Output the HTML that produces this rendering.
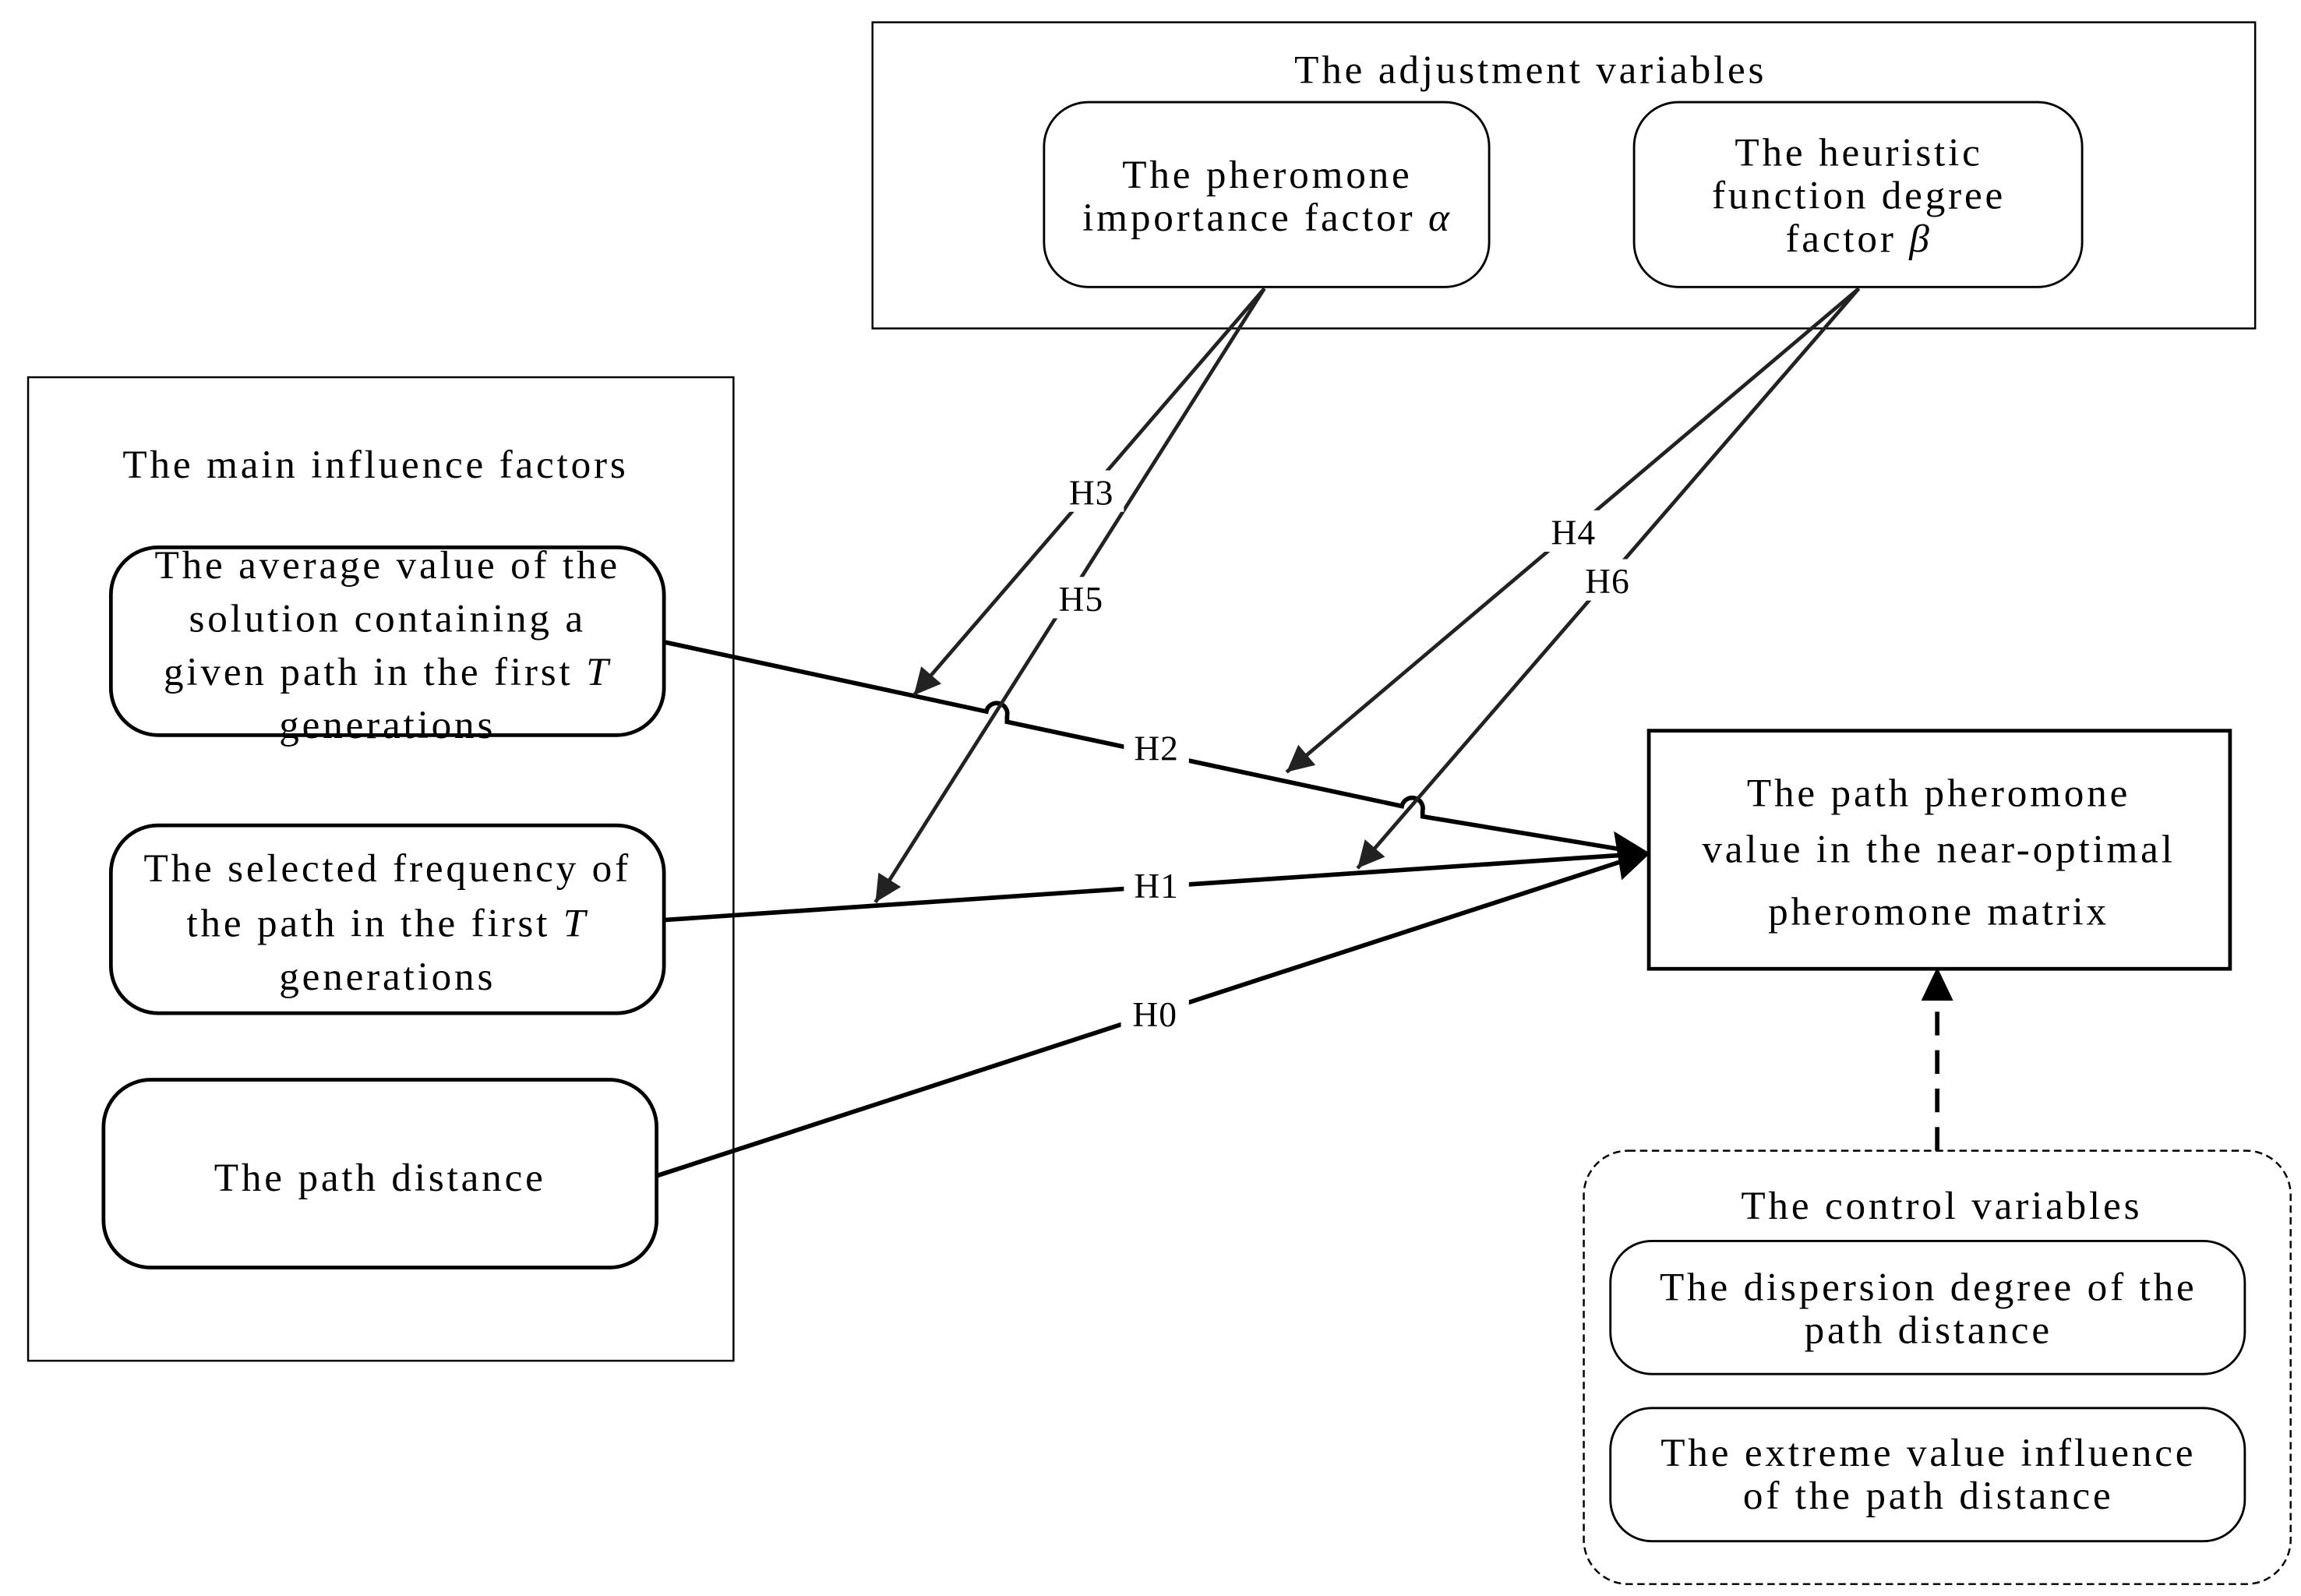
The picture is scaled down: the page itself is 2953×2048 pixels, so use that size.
<!DOCTYPE html>
<html><head><meta charset="utf-8"><style>html,body{margin:0;padding:0;background:#fff}svg{display:block}</style></head>
<body>
<svg width="2953" height="2048" viewBox="0 0 1556 1079" xmlns="http://www.w3.org/2000/svg" font-family="'Liberation Serif', serif" font-size="27" text-anchor="middle" letter-spacing="2">
<defs>
<marker id="a" viewBox="0 0 10 10" refX="10" refY="5" markerWidth="24" markerHeight="18" markerUnits="userSpaceOnUse" orient="auto"><path d="M0,0L10,5L0,10z" fill="#222"/></marker>
</defs>
<g fill="none" stroke="#000">
<rect x="590" y="15" width="935" height="207" stroke-width="1.3"/>
<rect x="19" y="255" width="477" height="665" stroke-width="1.3"/>
<rect x="706" y="69" width="301" height="125" rx="30" stroke-width="1.5"/>
<rect x="1105" y="69" width="303" height="125" rx="30" stroke-width="1.5"/>
<rect x="75" y="370" width="374" height="127" rx="32" stroke-width="2.5"/>
<rect x="75" y="558" width="374" height="127" rx="32" stroke-width="2.5"/>
<rect x="70" y="730" width="374" height="127" rx="32" stroke-width="2.5"/>
<rect x="1115" y="494" width="393" height="161" stroke-width="2.5"/>
<rect x="1071" y="778" width="478" height="293" rx="30" stroke-width="1.3" stroke-dasharray="5,3"/>
<rect x="1089" y="839" width="429" height="90" rx="28" stroke-width="1.5"/>
<rect x="1089" y="952" width="429" height="90" rx="28" stroke-width="1.5"/>
<line x1="1310" y1="778" x2="1310" y2="657" stroke-width="3" stroke-dasharray="16,10"/>
<path d="M1300,676 L1310,655 L1320,676z" fill="#000"/>
<path d="M449,434 L667,481 A7,7 0 0 1 681,484 L681,488 L948,545 A7,7 0 0 1 962,548 L962,552 L1113,577" stroke-width="3"/>
<line x1="449" y1="622" x2="1113" y2="577" stroke-width="3"/>
<line x1="444" y1="795" x2="1113" y2="577" stroke-width="3"/>
<path d="M1092,563 L1115,577 L1097,594z" fill="#000"/>
<g stroke="#222" stroke-width="2.5">
<line x1="855" y1="195" x2="618" y2="470" marker-end="url(#a)"/>
<line x1="855" y1="195" x2="592" y2="610" marker-end="url(#a)"/>
<line x1="1257" y1="195" x2="870" y2="522" marker-end="url(#a)"/>
<line x1="1257" y1="195" x2="918" y2="587" marker-end="url(#a)"/>
</g>
</g>
<g fill="#fff">
<rect x="716" y="318" width="44" height="28"/><rect x="708" y="390" width="46" height="28"/>
<rect x="1041" y="345" width="46" height="28"/><rect x="1064" y="378" width="46" height="28"/>
<rect x="760" y="491" width="44" height="28"/><rect x="760" y="585" width="44" height="28"/><rect x="758" y="672" width="46" height="28"/>
</g>
<g fill="#000">
<text x="1035" y="56">The adjustment variables</text>
<text x="857" y="127">The pheromone</text>
<text x="857" y="156">importance factor <tspan font-style="italic">α</tspan></text>
<text x="1257" y="112">The heuristic</text>
<text x="1257" y="141">function degree</text>
<text x="1257" y="170">factor <tspan font-style="italic">β</tspan></text>
<text x="254" y="323">The main influence factors</text>
<text x="262" y="391">The average value of the</text>
<text x="262" y="427">solution containing a</text>
<text x="262" y="463">given path in the first <tspan font-style="italic">T</tspan></text>
<text x="262" y="499">generations</text>
<text x="262" y="596">The selected frequency of</text>
<text x="262" y="633">the path in the first <tspan font-style="italic">T</tspan></text>
<text x="262" y="669">generations</text>
<text x="257" y="805">The path distance</text>
<text x="1311" y="545">The path pheromone</text>
<text x="1311" y="583">value in the near-optimal</text>
<text x="1311" y="625">pheromone matrix</text>
<text x="1313" y="824">The control variables</text>
<text x="1304" y="879">The dispersion degree of the</text>
<text x="1304" y="908">path distance</text>
<text x="1304" y="991">The extreme value influence</text>
<text x="1304" y="1020">of the path distance</text>
<g font-size="24" letter-spacing="0.5">
<text x="738" y="341">H3</text><text x="731" y="413">H5</text>
<text x="1064" y="368">H4</text><text x="1087" y="401">H6</text>
<text x="782" y="514">H2</text><text x="782" y="607">H1</text><text x="781" y="694">H0</text>
</g>
</g>
</svg>
</body></html>
